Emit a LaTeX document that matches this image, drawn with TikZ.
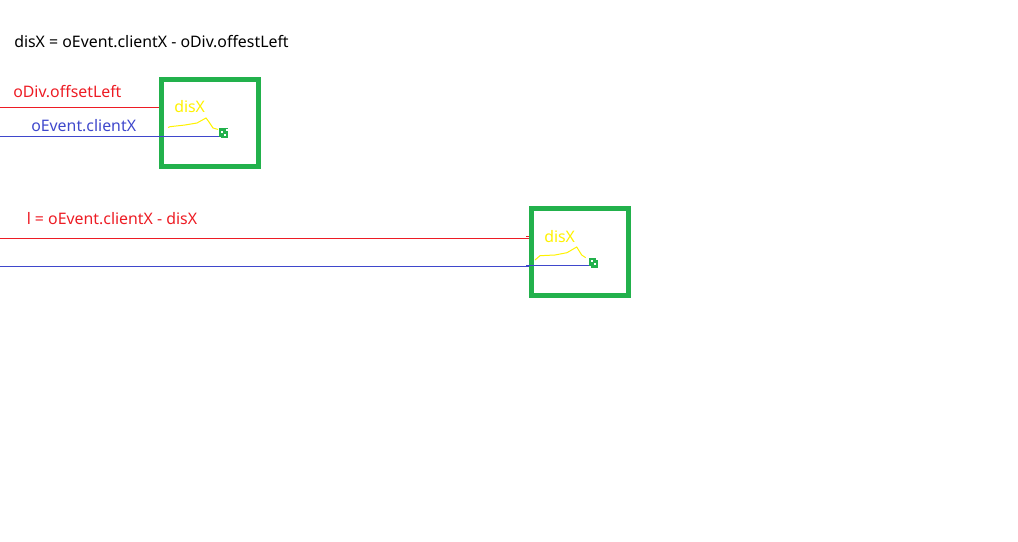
\documentclass[tikz,border=0pt]{standalone}
\usepackage{fontspec}
\setmainfont{Noto Sans}
\definecolor{boxgreen}{RGB}{34,177,76}
\definecolor{markred}{RGB}{237,28,36}
\definecolor{markblue}{RGB}{63,72,204}
\definecolor{markyellow}{RGB}{255,242,0}
\tikzset{
    label text/.style={inner sep=0pt, anchor=base west, font=\fontsize{11.9pt}{14pt}\selectfont},
    green box/.style={draw=boxgreen, line width=3.75pt, inner sep=0pt, minimum width=72.75pt, minimum height=65.25pt},
    cursor/.style={fill=boxgreen, inner sep=0pt, minimum width=6.75pt, minimum height=7.5pt},
    speck/.style={fill=white, inner sep=0pt, minimum size=0.8pt},
    corner/.style={fill=white, inner sep=0pt, minimum width=2.2pt, minimum height=1.8pt},
    redline/.style={draw=markred, line width=0.75pt},
    blueline/.style={draw=markblue, line width=0.75pt},
    mouse path/.style={draw=markyellow, line width=0.75pt}
}

\begin{document}
\begin{tikzpicture}[x=0.75pt, y=-0.75pt]
    \useasboundingbox (0,0) rectangle (1018,542);

    \node[label text] at (14,48) (formula) {disX = oEvent.clientX - oDiv.offestLeft};

    % first box
    \node[green box] at (210,123) (boxA) {};
    \node[cursor] at (223.5,133.5) (cursorA) {};
    \node[corner] at (227,130) (cornerA) {};
    \node[corner] at (220,137.8) (cornerB) {};
    \node[speck] at (222,132) (speckA) {};
    \node[speck] at (225,135) (speckB) {};
    \node[label text, text=markred] at (13,98) (offsetA) {oDiv.offsetLeft};
    \node[label text, text=markblue] at (31,131.5) (clientA) {oEvent.clientX};
    \node[label text, text=markyellow] at (174,113) (disA) {disX};
    \coordinate (redA) at (0,107.5);
    \coordinate (blueA) at (0,136.5);
    \draw[redline] (redA) -- (redA -| boxA.west);
    \draw[blueline] (blueA) -- (blueA -| cursorA.west);
    \draw[mouse path] (168,127.5) -- (170,126.7) -- (185,125) -- (197,123) -- (206,118) -- (209,122) -- (213,128) -- (218,129.5);

    % second box
    \node[green box] at (580,252) (boxB) {};
    \node[cursor] at (593.5,262.5) (cursorB) {};
    \node[corner] at (597,259) (cornerC) {};
    \node[corner] at (590,266.8) (cornerD) {};
    \node[speck] at (592,261) (speckC) {};
    \node[speck] at (595,264) (speckD) {};
    \node[label text, text=markred] at (26.5,224) (offsetB) {l = oEvent.clientX - disX};
    \node[label text, text=markyellow] at (544,242) (disB) {disX};
    \coordinate (redB) at (0,238.5);
    \coordinate (blueB) at (0,266.5);
    \coordinate (redEnd) at (526,236.5);
    \coordinate (blueEnd) at (526,265.5);
    \draw[redline] (redB) -- (redB -| boxB.west);
    \draw[redline] (redEnd) -- (redEnd -| boxB.west);
    \draw[blueline] (blueB) -- (blueB -| boxB.west);
    \draw[blueline] (blueEnd) -- (blueEnd -| cursorB.west);
    \draw[mouse path] (535,260) -- (540,255.7) -- (555,255) -- (567,252.7) -- (576.7,247) -- (581.7,255) -- (585.7,257.7);
\end{tikzpicture}
\end{document}
